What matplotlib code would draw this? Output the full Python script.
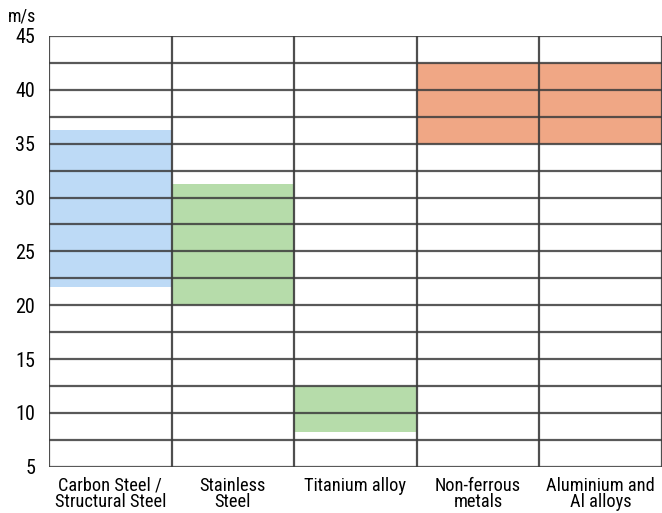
import matplotlib.pyplot as plt
from matplotlib import font_manager

# Data
categories = ['Carbon Steel /\nStructural Steel', 'Stainless\nSteel', 'Titanium alloy',
              'Non-ferrous\nmetals', 'Aluminium and\nAl alloys']
low = [21.7, 20.0, 8.2, 35.0, 35.0]
high = [36.3, 31.3, 12.5, 42.5, 42.5]
colors = ['#bddaf6', '#b6dcaa', '#b6dcaa', '#f0a785', '#f0a785']
y_ticks = [5, 10, 15, 20, 25, 30, 35, 40, 45]

names = {f.name for f in font_manager.fontManager.ttflist}
condensed = [f for f in font_manager.fontManager.ttflist
             if f.name == 'DejaVu Sans' and f.stretch == 'condensed']
font = 'DejaVu Sans'
stretch = 'normal'
for cand in ['Liberation Sans Narrow', 'Roboto Condensed', 'Open Sans Condensed']:
    if cand in names:
        font = cand
        break
else:
    if condensed:
        stretch = 'condensed'
plt.rcParams['font.family'] = [font, 'DejaVu Sans']
plt.rcParams['font.stretch'] = stretch

fig = plt.figure(figsize=(6.62, 5.13), dpi=100)
ax = fig.add_axes([0.074, 0.09, 0.926, 0.84])

n = len(categories)
for i in range(n):
    ax.bar(i + 0.5, high[i] - low[i], bottom=low[i], width=1.0,
           color=colors[i], edgecolor='none', zorder=1)

# grid lines every 2.5
y = 5.0
while y <= 45.0:
    ax.axhline(y, color='#3c3c3c', lw=1.6, alpha=0.85, zorder=2)
    y += 2.5
for i in range(n + 1):
    ax.axvline(i, color='#3c3c3c', lw=1.6, alpha=0.9, zorder=2)

ax.set_xlim(0, n)
ax.set_ylim(5, 45)
ax.set_yticks(y_ticks)
ax.set_yticklabels([str(t) for t in y_ticks], fontsize=14.5)
ax.set_xticks([i + 0.5 for i in range(n)])
ax.set_xticklabels(categories, fontsize=13.2, linespacing=0.92)
ax.tick_params(axis='y', length=0, pad=10)
ax.tick_params(axis='x', length=0, pad=7)
for s in ax.spines.values():
    s.set_visible(False)

fig.text(0.012, 0.968, 'm/s', fontsize=13, va='center')

fig.savefig('out.png', dpi=100)
